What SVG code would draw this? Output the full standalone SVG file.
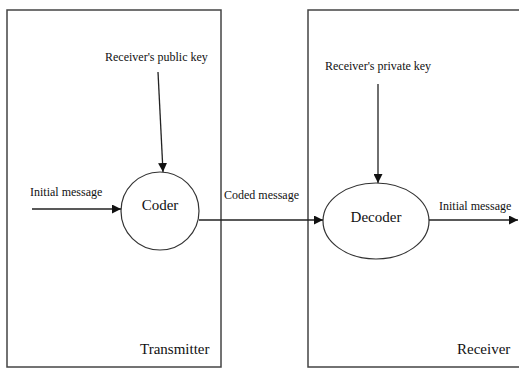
<svg xmlns="http://www.w3.org/2000/svg" width="519" height="369" viewBox="0 0 519 369">
<style>
.box{fill:none;stroke:#444;stroke-width:1.5}
.node{fill:#fff;stroke:#333;stroke-width:1.2}
.edge{fill:none;stroke:#222;stroke-width:1.3}
.sm{font-family:"Liberation Serif",serif;font-size:12px;fill:#111}
.lg{font-family:"Liberation Serif",serif;font-size:15px;fill:#111}
</style>
<defs>
<marker id="ah" viewBox="0 0 10 10" refX="10" refY="5" markerWidth="9" markerHeight="9" markerUnits="userSpaceOnUse" orient="auto">
<path d="M0,0 L10,5 L0,10 z" fill="#111"/>
</marker>
</defs>
<rect width="519" height="369" fill="#fff"/>
<g id="transmitter">
<rect class="box" x="7" y="10" width="214" height="357"/>
<text class="lg" x="140" y="354">Transmitter</text>
</g>
<g id="receiver">
<path class="box" d="M520,10 H308 V367 H520"/>
<text class="lg" x="457" y="354">Receiver</text>
</g>
<g id="coder">
<circle class="node" cx="160" cy="211" r="39"/>
<text class="lg" x="160" y="210" text-anchor="middle">Coder</text>
</g>
<g id="decoder">
<ellipse class="node" cx="376" cy="221" rx="53" ry="38"/>
<text class="lg" x="376" y="222" text-anchor="middle">Decoder</text>
</g>
<g id="connectors">
<line class="edge" x1="32" y1="209" x2="121" y2="209" marker-end="url(#ah)"/>
<line class="edge" x1="199" y1="220" x2="323" y2="220" marker-end="url(#ah)"/>
<line class="edge" x1="429" y1="220" x2="518" y2="220" marker-end="url(#ah)"/>
<line class="edge" x1="158" y1="72" x2="163" y2="172" marker-end="url(#ah)"/>
<line class="edge" x1="378" y1="84" x2="378" y2="183" marker-end="url(#ah)"/>
<text class="sm" x="30" y="196">Initial message</text>
<text class="sm" x="224" y="199">Coded message</text>
<text class="sm" x="439" y="210">Initial message</text>
<text class="sm" x="105" y="61">Receiver's public key</text>
<text class="sm" x="325" y="70">Receiver's private key</text>
</g>
</svg>
